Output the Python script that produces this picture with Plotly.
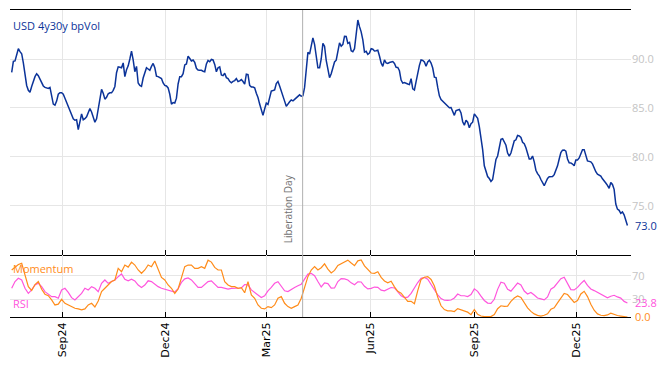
import plotly.graph_objects as go
import pandas as pd

# ---------------- data ----------------
vol_start, vol_end = "2024-07-18", "2026-01-15"

vol_values = [
    88.64, 89.76, 89.8, 90.4, 91.05, 90.75, 90.54, 89.6, 88.2, 87.3,
    86.8, 86.6, 87.2, 87.8, 88.2, 88.5, 88.3, 87.95, 87.5, 87.25,
    87.1, 87.05, 87.0, 87.1, 86.3, 85.4, 85.3, 85.7, 86.4, 86.55,
    86.55, 86.4, 86.0, 85.6, 85.25, 84.8, 84.35, 83.9, 83.75, 83.8,
    82.8, 83.7, 84.4, 83.8, 83.9, 84.1, 84.5, 84.95, 84.6, 83.95,
    83.55, 83.9, 84.9, 86.2, 86.9, 86.5, 85.9, 86.1, 86.45, 86.55,
    86.55, 86.8, 87.2, 88.6, 89.2, 89.15, 89.1, 89.6, 88.2, 88.9,
    89.3, 90.0, 90.8, 89.9, 88.7, 89.25, 87.55, 87.3, 87.2, 88.06,
    88.64, 89.1, 88.98, 88.84, 89.25, 89.55, 89.1, 88.25, 88.2, 88.1,
    88.0, 87.55, 87.3, 87.25,
    87.05, 86.4, 85.4, 85.55, 85.5, 86.0, 87.45, 88.2, 88.2, 88.5,
    89.4, 89.5, 90.3, 90.05, 89.8, 89.9, 89.65, 89.05, 88.87, 88.84,
    88.84, 88.75, 88.7, 89.5, 89.85, 89.72, 89.95, 89.9, 89.45, 88.7,
    89.1, 89.2, 88.37, 88.3, 88.55, 88.1, 88.0, 87.72, 87.58, 87.72,
    87.8, 88.0, 87.7, 87.77, 87.9, 87.7, 87.43, 88.45, 88.4, 87.3,
    87.15, 87.14, 87.06, 86.5, 86.07, 85.4, 84.78, 84.25, 84.9, 85.5,
    85.36, 86.0, 86.72, 86.78, 86.85, 87.5, 87.7, 87.25, 86.8, 86.25,
    85.7, 85.17, 85.47, 85.63, 85.82, 85.72, 85.88, 86.05, 86.23, 86.34,
    86.2, 86.26, 87.1, 88.6, 90.68, 90.5, 91.3, 92.15, 91.5, 90.1,
    89.1, 89.1,
    90.0, 91.6, 91.3, 89.85, 88.8, 88.1, 88.5, 89.05, 89.7, 89.88,
    90.65, 91.65, 91.3, 91.5, 92.32, 92.3, 91.6, 91.7, 90.85, 90.74,
    91.05, 92.4, 93.98, 93.3, 92.77, 91.95, 90.7, 90.78, 90.48, 90.6,
    91.05, 91.0, 90.82, 90.85, 90.9, 90.3, 89.6, 89.25, 89.9, 89.6,
    89.55, 89.64, 89.66, 89.74, 89.55, 89.15, 89.14, 88.8, 87.85, 87.54,
    87.6, 87.48, 87.45, 87.4, 88.0, 86.95, 86.84, 87.7, 88.6, 89.35,
    89.9, 89.86, 89.7, 89.25, 89.7, 89.88, 89.58, 89.08, 88.15, 88.1,
    87.1, 86.24, 85.87, 85.7, 85.52, 85.37, 85.18, 85.03, 85.05, 84.55,
    84.25, 84.74, 84.82,
    84.85, 84.5, 83.6, 83.25, 83.75, 83.55, 82.98, 83.4, 83.55, 84.4,
    84.2, 83.95, 83.1, 82.0, 80.75, 79.1, 78.4, 78.0, 77.8, 77.5,
    77.7, 78.75, 79.75, 80.1, 81.1, 81.8, 81.86, 81.45, 81.2, 80.4,
    80.1, 80.4, 81.2, 81.65, 81.75, 82.2, 82.15, 82.0, 81.5, 81.35,
    80.95, 80.3, 79.8, 79.8, 80.1, 79.5, 78.65, 78.3, 78.08, 77.7,
    77.3, 77.07, 77.45, 77.82, 77.98, 78.0, 78.0, 78.2, 78.6, 79.1,
    79.8, 80.45, 80.7, 80.72, 80.6, 79.8, 79.4, 79.39, 79.28, 79.1,
    79.7, 79.7, 79.9, 80.35, 80.75, 80.75, 80.2, 79.6, 79.55, 79.5,
    79.3, 78.8, 78.5, 78.25, 78.16, 78.06, 77.77, 77.6, 77.35, 77.1,
    76.8, 77.4, 77.2, 76.7, 75.2, 74.68, 74.56, 74.25, 74.4, 74.1,
    73.65, 73.0,
]

momentum_values = [
    79.6, 85, 89, 90.8, 71, 51.4, 45, 55, 60, 47,
    38.6, 36, 29, 20.4, 21.8, 30, 23.2, 20.4, 17.6, 14.8,
    13.7, 12, 13.7, 20.4, 23.2, 17, 27, 43, 48.6, 54.2,
    60, 62.7, 82.4, 76.8, 88, 84.5, 92.9, 88, 79.6, 74,
    79.6, 88, 85.2, 94.8, 79.6, 67, 62.7, 54.2, 48.6, 40,
    47.4, 68.3, 85.2, 88, 88, 82.4, 82.4, 85.2, 82.4, 96.2,
    93, 84, 79.6, 79.6, 60, 54.2, 51.4, 51.4, 48.6, 49.7,
    41, 60, 37.3, 31.7, 20.4, 14.8, 13.7, 17.6, 15.9, 20.4,
    31.7, 34.5, 23.2, 17.6, 14.8, 17.6, 20.4, 31.7, 48.6, 68.3,
    79.6, 85.2, 79.6,
    83.5, 90, 81, 74.5, 79, 87.2, 90.4, 94.4, 96.3, 91.5,
    87, 95, 96.5, 86.5, 80, 74.5, 74, 76.5, 67, 61,
    58, 60.5, 51, 43.6, 40.3, 32.5, 26.6, 26.5, 22.4, 44.7,
    63.7, 67.3, 68.3, 63.5, 52.5, 33.7, 19, 12.6, 10.5, 10.3,
    9.2, 14.2, 12.3, 10.5, 8.2, 4, 12.5, 4.7, 1.7, 0.7,
    0.7, 0.7, 4, 14, 19, 18, 18.5, 26.5, 32, 35.5,
    33, 24, 15.5, 9.5, 5.2, 2.8, 1.4, 3, 5.3, 13,
    15.5, 23.8, 32.6, 40, 38, 31, 24.6, 28, 39, 43.5,
    34.5, 21.5, 11.4, 5.2, 3, 2.4, 3.5, 6.5, 4, 2.5,
    1.6, 1, 0.0,
]

rsi_values = [
    48.6, 60, 65.5, 62.7, 48.6, 40, 45.8, 54.2, 57, 51.4,
    43, 38.4, 34.5, 34.5, 31.7, 45.8, 48.6, 41.8, 32.8, 28.8,
    34.5, 40, 48.6, 45.8, 51.4, 48.6, 43, 57, 62.7, 57,
    60, 62.7, 68.3, 73, 64, 61.3, 64, 61, 54, 50,
    54, 61.3, 60, 55.6, 51.4, 48.6, 47.2, 45, 43.5, 42.4,
    48, 58.5, 64.6, 66, 62.7, 55.7, 50, 50, 54.2, 60,
    61.3, 55.7, 50, 50, 48.6, 47.2, 48.6, 48.6, 48.6, 49.1,
    55, 54.3, 45.8, 41.5, 37.2, 33.1, 35.8, 44.3, 50, 57,
    59.8, 52.8, 44.3, 43, 47.2, 50, 52.8, 55.6, 64, 72.6,
    74, 69.8, 60,
    50.8, 57.8, 56.5, 49, 49.2, 60, 64.9, 64.5, 62.7, 57.8,
    54.7, 59.6, 59.3, 52, 47.5, 48.6, 50.7, 50.2, 45.5, 44.2,
    47.3, 49.9, 49.2, 42.9, 35.9, 32.8, 33.5, 39.9, 49.6, 58.4,
    65.5, 67, 63.9, 55.4, 45, 37.6, 31.2, 28.4, 28.2, 28.8,
    32.2, 38.8, 36, 36, 34.7, 38, 47.6, 43.5, 35.3, 28,
    23.6, 23.2, 30, 46.8, 58.8, 57.3, 47, 43.8, 50.5, 57.5,
    54.2, 44, 38.9, 41.4, 37.1, 32.2, 30.8, 29, 33.9, 47.2,
    50.9, 57.9, 64.8, 67.3, 57, 46.4, 45.8, 50.2, 56.5, 61.9,
    53.6, 47.5, 44.7, 41.8, 38.9, 36.2, 32.5, 35.2, 36.8, 34,
    32, 26.4, 23.8,
]

tick_dates = ["2024-09-01", "2024-12-01", "2025-03-01",
              "2025-06-01", "2025-09-01", "2025-12-01"]
tick_labels = ["Sep24", "Dec24", "Mar25", "Jun25", "Sep25", "Dec25"]
vol_ticks = [75, 80, 85, 90]
ind_ticks = [30, 70]
event_date = "2025-04-02"
event_label = "Liberation Day"
title_label = "USD 4y30y bpVol"

# ---------------- styling ----------------
BLUE = "#0b3399"
ORANGE = "#ff8c1a"
MAGENTA = "#ff55dd"
GRID = "#e6e6e6"
TICKGRAY = "#c4c4c4"

vol_dates = pd.date_range(vol_start, vol_end, periods=len(vol_values))
ind_dates = pd.date_range(vol_start, vol_end, periods=len(momentum_values))

fig = go.Figure()
fig.add_trace(go.Scatter(x=vol_dates, y=vol_values, mode="lines",
                         line=dict(color=BLUE, width=1.5),
                         xaxis="x", yaxis="y", name="bpVol"))
fig.add_trace(go.Scatter(x=ind_dates, y=rsi_values, mode="lines",
                         line=dict(color=MAGENTA, width=1.2),
                         xaxis="x2", yaxis="y2", name="RSI"))
fig.add_trace(go.Scatter(x=ind_dates, y=momentum_values, mode="lines",
                         line=dict(color=ORANGE, width=1.2),
                         xaxis="x2", yaxis="y2", name="Momentum"))

split = 0.202
xrange = ["2024-07-16 12:00", "2026-01-18 04:00"]

common_x = dict(range=xrange, tickvals=tick_dates, ticktext=tick_labels,
                ticks="inside", ticklen=5, tickcolor="black", tickwidth=1,
                showline=True, linecolor="black", linewidth=1,
                showgrid=True, gridcolor=GRID, gridwidth=1, zeroline=False)

# page body adds an 8px offset; figure is sized to fill the rest of the window
fig.update_layout(
    width=660, height=358,
    margin=dict(l=2, r=37, t=2, b=49, autoexpand=False),
    paper_bgcolor="white", plot_bgcolor="white",
    showlegend=False,
    font=dict(family="Open Sans", size=11),
    xaxis=dict(domain=[0, 1], anchor="y", showticklabels=False, mirror=True,
               **common_x),
    xaxis2=dict(domain=[0, 1], anchor="y2", matches="x", tickangle=-90,
                mirror=False,
                tickfont=dict(family="DejaVu Sans", size=11, color="black"),
                **common_x),
    yaxis=dict(domain=[split, 1], side="right", range=[70, 95],
               tickvals=vol_ticks, tickformat=".1f",
               tickfont=dict(color=TICKGRAY, size=11),
               showgrid=True, gridcolor=GRID, zeroline=False,
               showline=False, ticks=""),
    yaxis2=dict(domain=[0, split], side="right", range=[0, 105],
                tickvals=ind_ticks, tickformat="d",
                tickfont=dict(color=TICKGRAY, size=11),
                showgrid=True, gridcolor=GRID, zeroline=False,
                showline=False, ticks=""),
)

fig.add_shape(type="line", xref="x", yref="paper", x0=event_date, x1=event_date,
              y0=0, y1=1, line=dict(color="#b0b0b0", width=1))

annotations = [
    dict(text=event_label, x=event_date, xref="x", y=70, yref="y",
         xanchor="right", yanchor="bottom", xshift=-5, yshift=10,
         textangle=-90, showarrow=False,
         font=dict(size=10, color="#707070")),
    dict(text=title_label, x=0, xref="paper", y=1, yref="paper",
         xanchor="left", yanchor="top", xshift=1, yshift=-6,
         showarrow=False, font=dict(size=11, color=BLUE)),
    dict(text="Momentum", x=0, xref="paper", y=1, yref="y2 domain",
         xanchor="left", yanchor="top", xshift=1, yshift=-4,
         showarrow=False, font=dict(size=11, color=ORANGE)),
    dict(text="RSI", x=0, xref="paper", y=0, yref="y2 domain",
         xanchor="left", yanchor="bottom", xshift=1, yshift=4,
         showarrow=False, font=dict(size=11, color=MAGENTA)),
    dict(text=f"{vol_values[-1]:.1f}", x=1, xref="paper", y=vol_values[-1], yref="y",
         xanchor="left", yanchor="middle", xshift=2,
         showarrow=False, font=dict(size=11, color=BLUE)),
    dict(text=f"{rsi_values[-1]:.1f}", x=1, xref="paper", y=rsi_values[-1], yref="y2",
         xanchor="left", yanchor="middle", xshift=2,
         showarrow=False, font=dict(size=11, color=MAGENTA)),
    dict(text=f"{momentum_values[-1]:.1f}", x=1, xref="paper", y=momentum_values[-1], yref="y2",
         xanchor="left", yanchor="middle", xshift=2,
         showarrow=False, font=dict(size=11, color=ORANGE)),
]
fig.update_layout(annotations=annotations)

fig.write_html("out.html")
